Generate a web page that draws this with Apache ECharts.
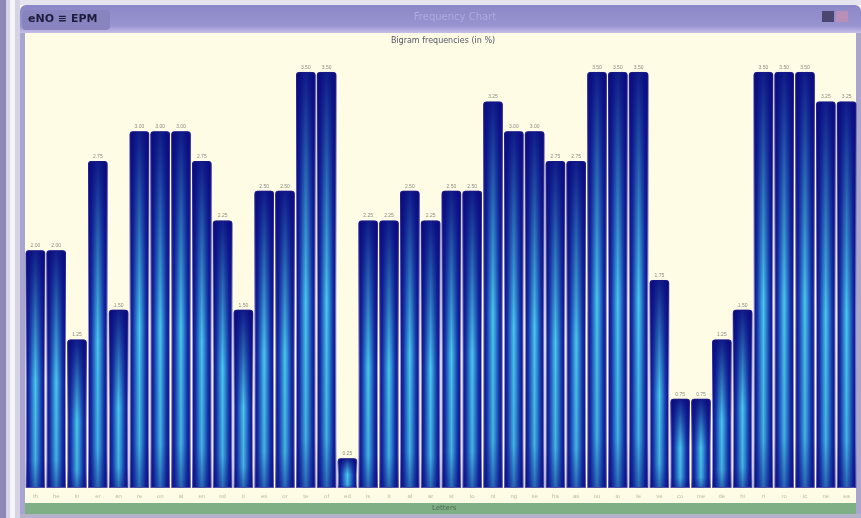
<!DOCTYPE html>
<html>
<head>
<meta charset="utf-8">
<script src="https://cdn.jsdelivr.net/npm/echarts@6/dist/echarts.min.js"></script>
<style>
  html, body { margin: 0; padding: 0; background: #e4e2ee; }
  #chart { width: 861px; height: 518px; }
</style>
</head>
<body>
<div id="chart"></div>
<script>
// bigram labels under the bars
const bigrams = ['th','he','in','er','an','re','on','at','en','nd',
                 'ti','es','or','te','of','ed','is','it','al','ar',
                 'st','to','nt','ng','se','ha','as','ou','io','le',
                 've','co','me','de','hi','ri','ro','ic','ne','ea'];
// frequencies in %
const freqs = [2.00,2.00,1.25,2.75,1.50,3.00,3.00,3.00,2.75,2.25,
               1.50,2.50,2.50,3.50,3.50,0.25,2.25,2.25,2.50,2.25,
               2.50,2.50,3.25,3.00,3.00,2.75,2.75,3.50,3.50,3.50,
               1.75,0.75,0.75,1.25,1.50,3.50,3.50,3.50,3.25,3.25];

const chart = echarts.init(document.getElementById('chart'));

const sideGrad = new echarts.graphic.LinearGradient(0, 0, 1, 0, [
  { offset: 0, color: '#0b0b86' },
  { offset: 0.18, color: '#1532a8' },
  { offset: 0.5, color: '#48c8ee' },
  { offset: 0.82, color: '#1532a8' },
  { offset: 1, color: '#0b0b86' }
]);
const shadeGrad = new echarts.graphic.LinearGradient(0, 0, 0, 1, [
  { offset: 0, color: 'rgba(10,10,125,0.9)' },
  { offset: 0.3, color: 'rgba(10,10,125,0.4)' },
  { offset: 0.55, color: 'rgba(10,10,125,0)' },
  { offset: 0.88, color: 'rgba(10,10,125,0.1)' },
  { offset: 1, color: 'rgba(10,10,125,0.5)' }
]);

const option = {
  backgroundColor: '#fffce6',
  animation: false,
  grid: { left: 25, right: 4, top: 60, bottom: 30 },
  xAxis: {
    type: 'category',
    data: bigrams,
    axisLine: { show: false },
    axisTick: { show: false },
    axisLabel: { interval: 0, fontSize: 6, color: '#bcbaa4', margin: 5 }
  },
  yAxis: {
    type: 'value',
    min: 0,
    max: 3.6,
    show: false
  },
  graphic: [
    // neighbouring window at left
    { type: 'rect', shape: { x: 0, y: 0, width: 20, height: 518 }, style: { fill: '#d6d4e4' } },
    { type: 'rect', shape: { x: 0, y: 0, width: 6, height: 518 }, style: { fill: '#8c89b8' } },
    { type: 'rect', shape: { x: 10, y: 0, width: 5, height: 518 }, style: { fill: '#f6f6fa' } },
    // window frame
    { type: 'rect', shape: { x: 20, y: 0, width: 841, height: 5 }, style: { fill: '#e6e4ee' } },
    { type: 'rect', shape: { x: 20, y: 33, width: 5, height: 485 }, style: { fill: '#a9a5d2' } },
    { type: 'rect', shape: { x: 856, y: 33, width: 5, height: 485 }, style: { fill: '#a9a5cc' } },
    { type: 'rect', shape: { x: 20, y: 514, width: 841, height: 4 }, style: { fill: '#b4b2c8' } },
    // title bar
    {
      type: 'rect', shape: { x: 20, y: 5, width: 841, height: 28, r: [6, 6, 0, 0] },
      style: { fill: new echarts.graphic.LinearGradient(0, 0, 0, 1, [
        { offset: 0, color: '#8c88c8' },
        { offset: 0.75, color: '#9894d0' },
        { offset: 1, color: '#c6c0e8' }
      ]) }
    },
    { type: 'rect', shape: { x: 22, y: 10, width: 88, height: 20, r: 4 }, style: { fill: '#8884c0' } },
    { type: 'text', x: 28, y: 14, style: { text: 'eNO ≡ EPM', fontSize: 11, fontWeight: 'bold', fill: '#1e1c3c', fontFamily: 'DejaVu Sans' } },
    { type: 'text', x: 455, y: 12, style: { text: 'Frequency Chart', fontSize: 10, fill: '#aeaadc', align: 'center', fontFamily: 'DejaVu Sans' } },
    { type: 'rect', shape: { x: 822, y: 11, width: 12, height: 11 }, style: { fill: '#4a4670' } },
    { type: 'rect', shape: { x: 836, y: 11, width: 12, height: 11 }, style: { fill: '#b98fb8' } },
    // chart title
    { type: 'text', x: 443, y: 37, style: { text: 'Bigram frequencies (in %)', fontSize: 8, fill: '#555566', align: 'center', fontFamily: 'DejaVu Sans' } },
    // green footer bar
    { type: 'rect', shape: { x: 25, y: 503, width: 831, height: 11 }, style: { fill: '#7faf84' } },
    { type: 'text', x: 432, y: 505, style: { text: 'Letters', fontSize: 7, fill: '#4d6a50', fontFamily: 'DejaVu Sans' } }
  ],
  series: [
    {
      type: 'bar',
      data: freqs,
      barCategoryGap: '6%',
      itemStyle: {
        color: sideGrad,
        borderColor: '#9c96d4',
        borderWidth: 1,
        borderRadius: [3, 3, 0, 0]
      },
      label: {
        show: true,
        position: 'top',
        distance: 2,
        fontSize: 5,
        color: '#8a8a80',
        formatter: p => p.value.toFixed(2)
      }
    },
    {
      type: 'bar',
      data: freqs,
      barGap: '-100%',
      barCategoryGap: '6%',
      silent: true,
      itemStyle: {
        color: shadeGrad,
        borderRadius: [3, 3, 0, 0]
      }
    }
  ]
};

chart.setOption(option);
</script>
</body>
</html>
